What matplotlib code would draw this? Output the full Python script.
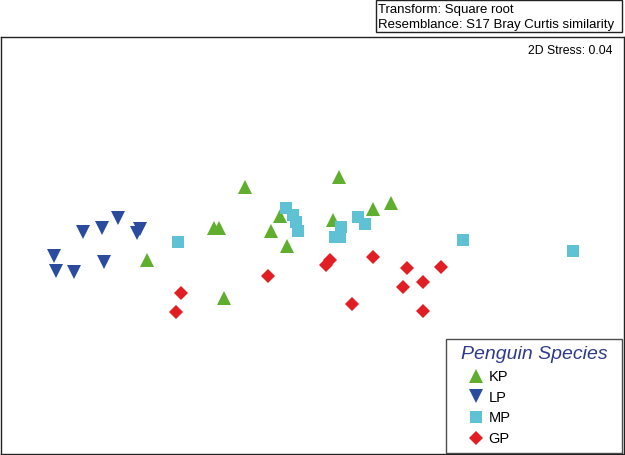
import matplotlib
matplotlib.use("Agg")
import matplotlib.pyplot as plt
from matplotlib.lines import Line2D
from matplotlib.patches import Rectangle

plt.rcParams['font.family'] = ['Liberation Sans', 'DejaVu Sans']

# MDS ordination coordinates (screen-like units)
species = ["KP", "LP", "MP", "GP"]
kp_x = [146, 244, 338, 213, 218, 279, 270, 286, 332, 372, 390, 223]
kp_y = [260, 187, 177, 228, 228, 216, 231, 246, 220, 209, 203, 299]
lp_x = [117, 101, 82, 139, 136, 53, 103, 55, 73]
lp_y = [218, 228, 232, 229, 233, 256, 262, 272, 273]
mp_x = [177, 285, 292, 295, 297, 340, 334, 339, 357, 364, 462, 572]
mp_y = [242, 208, 215, 222, 231, 227, 237, 237, 217, 224, 240, 251]
gp_x = [180, 175, 267, 325, 329, 372, 406, 440, 422, 402, 351, 422]
gp_y = [294, 313, 277, 265, 260, 257, 269, 268, 283, 288, 305, 312]

colors = {"KP": "#5FAE2E", "LP": "#2B4C9E", "MP": "#5EC2D4", "GP": "#E01E24"}
markers = {"KP": "^", "LP": "v", "MP": "s", "GP": "D"}
msize = {"KP": 10, "LP": 10, "MP": 9, "GP": 7.5}
data = {"KP": (kp_x, kp_y), "LP": (lp_x, lp_y), "MP": (mp_x, mp_y), "GP": (gp_x, gp_y)}

fig = plt.figure(figsize=(6.25, 4.55), dpi=100)
ax = fig.add_axes([0.0024, 0.002, 0.9952, 1 - 37 / 455 - 0.002])
for sp in species:
    xs, ys = data[sp]
    ax.plot(xs, ys, linestyle="none", marker=markers[sp], markersize=msize[sp],
            color=colors[sp], markeredgewidth=0)
ax.set_xlim(1, 623)
ax.set_ylim(455, 37)
ax.set_xticks([])
ax.set_yticks([])
for s in ax.spines.values():
    s.set_linewidth(1.0)
    s.set_color("#222222")

fig.text(612 / 625, 1 - 51 / 455, "2D Stress: 0.04", ha="right",
         va="center", fontsize=8.8)

# top info box
fig.patches.append(Rectangle((376 / 625, 1 - 32 / 455), 246 / 625, 32 / 455,
                             transform=fig.transFigure, fill=False,
                             edgecolor="#222222", linewidth=1.0))
fig.text(378 / 625, 1 - 10 / 455, "Transform: Square root", fontsize=9.5,
         va="center", ha="left")
fig.text(378 / 625, 1 - 25 / 455, "Resemblance: S17 Bray Curtis similarity",
         fontsize=9.5, va="center", ha="left")

lsize = {"KP": 9.5, "LP": 9.5, "MP": 8, "GP": 7}
handles = [Line2D([], [], linestyle="none", marker=markers[sp],
                  markersize=lsize[sp], color=colors[sp],
                  markeredgewidth=0) for sp in species]
leg = fig.legend(handles, species, loc="lower left",
                 bbox_to_anchor=(446 / 625, 2 / 455, 176 / 625, 0.3),
                 bbox_transform=fig.transFigure, mode="expand",
                 title="Penguin Species",
                 fontsize=10.5, frameon=True, fancybox=False, edgecolor="#222222",
                 borderaxespad=0.0, handlelength=3.15, handletextpad=-0.75,
                 labelspacing=0.45, borderpad=0.5, alignment="center")
leg.get_frame().set_linewidth(1.0)
t = leg.get_title()
t.set_fontsize(14)
t.set_fontstyle("italic")
t.set_color("#2E3A8C")

fig.savefig("out.png", dpi=100)
